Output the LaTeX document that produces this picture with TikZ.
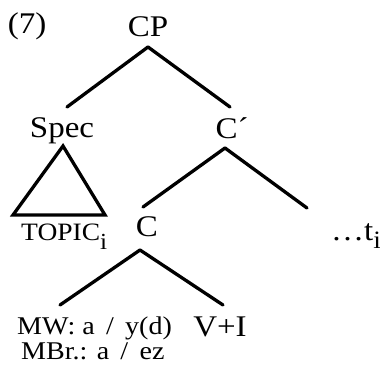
\documentclass[tikz,border=0pt]{standalone}
\usepackage{fontspec}
\setmainfont[FakeStretch=1.1]{Liberation Serif}
\usetikzlibrary{calc}
\begin{document}
\begin{tikzpicture}[x=1pt,y=-1pt,
  cat/.style={inner sep=0pt,font=\fontsize{30}{34}\selectfont},
  leaf/.style={inner sep=0pt,font=\fontsize{25.5}{29}\selectfont},
  branch/.style={line width=3.3pt,line cap=round,line join=miter}]
\useasboundingbox (0,0) rectangle (380,369);

% labels
\node[cat,anchor=base] (ex) at (27,34) {(7)};
\node[cat,anchor=base] (CP) at (148,37) {CP};
\node[cat,anchor=base] (Spec) at (62,137) {Spec};
\node[cat,anchor=base] (Cbar) at (232,138) {C´};
\node[cat,anchor=base] (C) at (147,236) {C};
\node[leaf,anchor=base west,font=\fontsize{25}{29}\selectfont] (topic) at (21,240)
  {TOPIC\raisebox{-9pt}{\fontsize{23}{23}\selectfont i}};
\node[cat,anchor=base west] (trace) at (331,240)
  {\dots t\raisebox{-8pt}{\fontsize{25}{25}\selectfont i}};
\node[cat,anchor=base] (VI) at (220,336) {V+I};
\node[leaf,anchor=base west] (mw) at (17,334) {MW: a \,/\, y(d)};
\node[leaf,anchor=base west] (mbr) at (21,359) {MBr.: a \,/\, ez};

% branches
\draw[branch] ($(CP.base)+(0,10)$) -- ($(Spec.base)+(5,-30)$);
\draw[branch] ($(CP.base)+(0,10)$) -- ($(Cbar.base)+(-2,-31)$);
\draw[branch] ($(Spec.base)+(1,9)$) -- ($(Spec.base)+(-49,78)$)
  -- ($(Spec.base)+(43,78)$) -- cycle;
\draw[branch] ($(Cbar.base)+(-7,10)$) -- ($(C.base)+(-4,-29)$);
\draw[branch] ($(Cbar.base)+(-7,10)$) -- ($(trace.base west)+(-24,-32)$);
\draw[branch] ($(C.base)+(-7,14)$) -- ($(mw.base west)+(43,-29)$);
\draw[branch] ($(C.base)+(-7,14)$) -- ($(VI.base)+(3,-31)$);
\end{tikzpicture}
\end{document}
